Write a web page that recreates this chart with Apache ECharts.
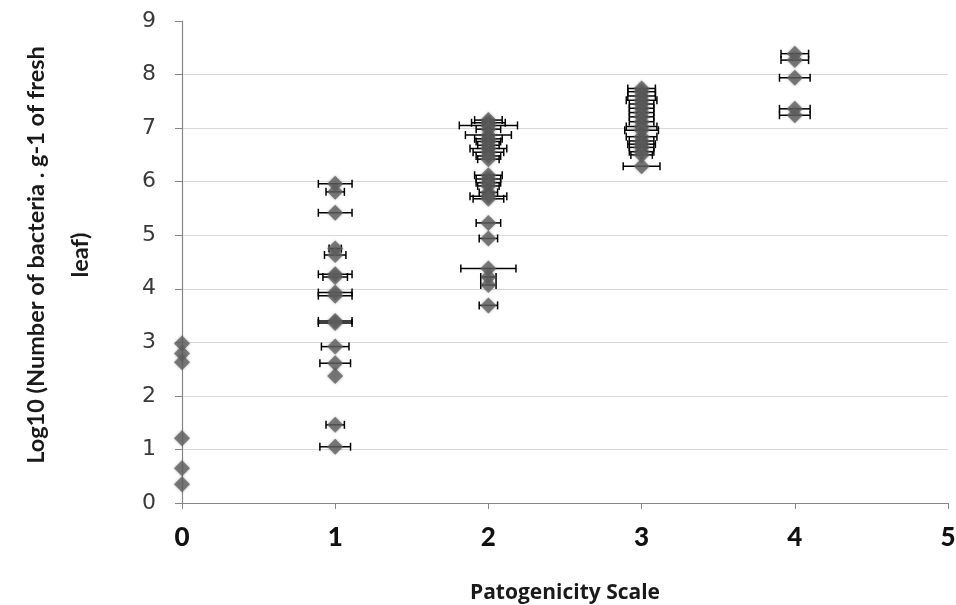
<!DOCTYPE html>
<html>
<head>
<meta charset="utf-8">
<title>Patogenicity scale vs bacteria count</title>
<script src="https://cdn.jsdelivr.net/npm/echarts@6/dist/echarts.min.js"></script>
<style>
  html, body { margin: 0; padding: 0; background: #fff; }
  #chart { width: 956px; height: 605px; }
</style>
</head>
<body>
<div id="chart"></div>
<script>
// values: y = log10 count, err = horizontal error bar half width
const scale0 = [2.98, 2.79, 2.63, 1.21, 0.65, 0.35];
const err0   = [0, 0, 0, 0, 0, 0];

const scale1 = [5.96, 5.81, 5.42, 4.75, 4.63, 4.27, 4.22, 3.93, 3.87, 3.40, 3.36, 2.92, 2.61, 2.37, 1.46, 1.05];
const err1   = [0.11, 0.06, 0.11, 0.04, 0.07, 0.11, 0.08, 0.11, 0.11, 0.11, 0.11, 0.09, 0.10, 0, 0.06, 0.10];

const scale2 = [7.15, 7.10, 7.05, 6.98, 6.87, 6.80, 6.75, 6.68, 6.62, 6.55, 6.48, 6.42,
                6.12, 6.05, 5.98, 5.92, 5.80, 5.73, 5.68, 5.23, 4.94, 4.38, 4.22, 4.07, 3.69];
const err2   = [0.09, 0.11, 0.19, 0.08, 0.15, 0.09, 0.08, 0.07, 0.12, 0.10, 0.08, 0.07,
                0.09, 0.08, 0.08, 0.07, 0.06, 0.12, 0.10, 0.08, 0.06, 0.18, 0.05, 0.05, 0.06];

const scale3 = [7.74, 7.68, 7.60, 7.52, 7.45, 7.37, 7.29, 7.21, 7.12, 7.03, 6.96, 6.84,
                6.76, 6.70, 6.64, 6.56, 6.50, 6.29];
const err3   = [0.09, 0.09, 0.09, 0.10, 0.08, 0.08, 0.08, 0.08, 0.08, 0.10, 0.11, 0.10,
                0.08, 0.09, 0.08, 0.08, 0.07, 0.12];

const scale4 = [8.39, 8.27, 7.94, 7.36, 7.24];
const err4   = [0.09, 0.09, 0.10, 0.10, 0.10];

const xTicks = [0, 1, 2, 3, 4, 5];
const yMin = 0, yMax = 9;

const groups = [
  [0, scale0, err0],
  [1, scale1, err1],
  [2, scale2, err2],
  [3, scale3, err3],
  [4, scale4, err4]
];

const points = [];
groups.forEach(([x, ys, errs]) => {
  ys.forEach((y, i) => points.push([x, y, errs[i]]));
});

function renderErrorBar(params, api) {
  const x = api.value(0), y = api.value(1), e = api.value(2);
  if (!e) return;
  const a = api.coord([x - e, y]);
  const b = api.coord([x + e, y]);
  const cap = 4;
  const style = { stroke: '#000', lineWidth: 1.5 };
  return {
    type: 'group',
    children: [
      { type: 'line', shape: { x1: a[0], y1: a[1], x2: b[0], y2: b[1] }, style: style },
      { type: 'line', shape: { x1: a[0], y1: a[1] - cap, x2: a[0], y2: a[1] + cap }, style: style },
      { type: 'line', shape: { x1: b[0], y1: b[1] - cap, x2: b[0], y2: b[1] + cap }, style: style }
    ]
  };
}

const chart = echarts.init(document.getElementById('chart'));
chart.setOption({
  animation: false,
  backgroundColor: '#fff',
  grid: { left: 182, right: 8, top: 21, bottom: 102, outerBoundsMode: 'none', containLabel: false },
  xAxis: {
    type: 'value',
    min: xTicks[0],
    max: xTicks[xTicks.length - 1],
    interval: 1,
    name: 'Patogenicity Scale',
    nameLocation: 'middle',
    nameGap: 80,
    nameTextStyle: { fontFamily: 'Open Sans', fontWeight: 'bold', fontSize: 21, color: '#1a1a1a' },
    axisLine: { lineStyle: { color: '#868686', width: 1.2 } },
    axisTick: { show: true, length: 6, lineStyle: { color: '#868686' } },
    axisLabel: { fontFamily: 'Lato', fontWeight: 900, fontSize: 26, color: '#111', margin: 22 },
    splitLine: { show: false }
  },
  yAxis: {
    type: 'value',
    min: yMin,
    max: yMax,
    interval: 1,
    name: 'Log10 (Number of bacteria . g-1 of fresh\nleaf)',
    nameLocation: 'middle',
    nameGap: 80,
    nameRotate: 90,
    nameTextStyle: { fontFamily: 'Lato', fontWeight: 'bold', fontSize: 23.5, color: '#1a1a1a', lineHeight: 44, align: 'center', padding: [0, 0, 0, 14] },
    axisLine: { show: true, lineStyle: { color: '#868686', width: 1.2 } },
    axisTick: { show: true, length: 7, lineStyle: { color: '#868686' } },
    axisLabel: { fontFamily: 'DejaVu Sans', fontSize: 22, color: '#3a3a3a', margin: 26 },
    splitLine: { show: true, showMaxLine: false, lineStyle: { color: '#d9d9d9', width: 1 } }
  },
  series: [
    {
      type: 'custom',
      renderItem: renderErrorBar,
      data: points,
      encode: { x: 0, y: 1 },
      silent: true,
      z: 2
    },
    {
      type: 'scatter',
      data: points.map(p => [p[0], p[1]]),
      symbol: 'diamond',
      symbolSize: 16,
      silent: true,
      itemStyle: {
        color: '#616161',
        shadowBlur: 3,
        shadowColor: 'rgba(0,0,0,0.35)'
      },
      z: 3
    }
  ]
});
</script>
</body>
</html>
